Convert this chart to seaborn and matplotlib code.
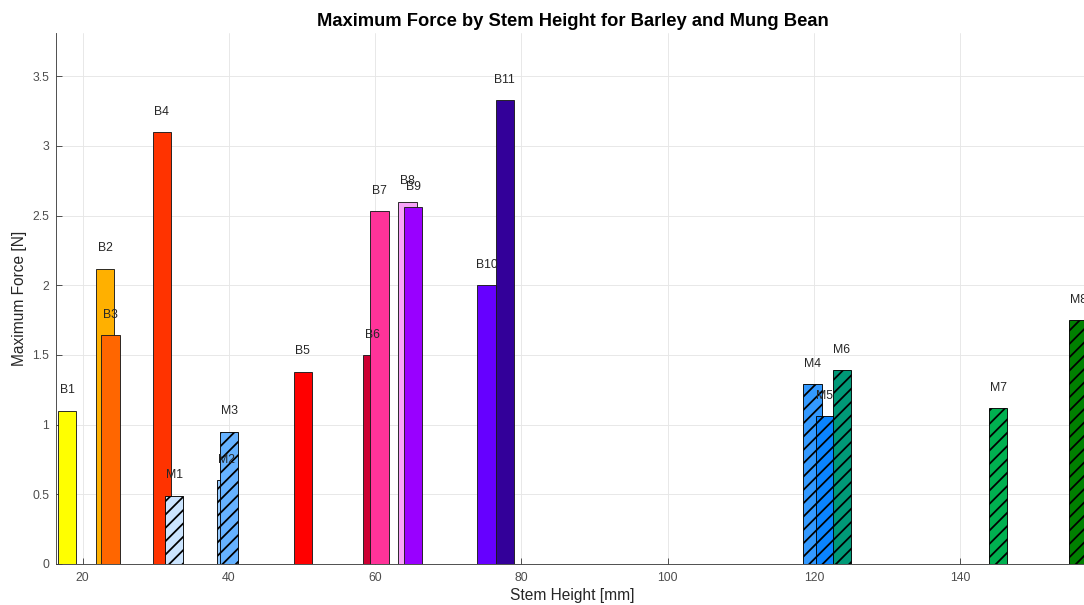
import matplotlib
matplotlib.use("Agg")
import matplotlib.pyplot as plt
import seaborn as sns

# Barley samples
barley_labels = ["B1", "B2", "B3", "B4", "B5", "B6", "B7", "B8", "B9", "B10", "B11"]
barley_height = [17.9, 23.05, 23.8, 30.8, 50.1, 59.6, 60.6, 64.4, 65.2, 75.2, 77.7]
barley_force = [1.10, 2.12, 1.64, 3.10, 1.38, 1.50, 2.53, 2.60, 2.56, 2.00, 3.33]

# Mung bean samples
mung_labels = ["M1", "M2", "M3", "M4", "M5", "M6", "M7", "M8"]
mung_height = [32.5, 39.6, 40.05, 119.8, 121.5, 123.8, 145.2, 156.1]
mung_force = [0.49, 0.60, 0.95, 1.29, 1.06, 1.39, 1.12, 1.75]

barley_colors = ["#FFFF00", "#FFB000", "#FF6600", "#FF3300", "#FF0000", "#CC0033",
                 "#FF3399", "#F7A3F7", "#9900FF", "#6600FF", "#330099"]
mung_colors = ["#CCE5FF", "#99CCFF", "#66B2FF", "#3399FF", "#0A84FF", "#009977",
               "#00B050", "#008000"]

BAR_WIDTH = 2.5
LABEL_OFFSET = 0.145

sns.set_theme(style="whitegrid", font="Liberation Sans")
plt.rcParams.update({
    "font.family": ["Liberation Sans", "DejaVu Sans"],
    "hatch.linewidth": 1.6,
    "hatch.color": "black",
    "grid.color": "#e6e6e6",
    "grid.linewidth": 0.8,
    "xtick.direction": "in",
    "ytick.direction": "in",
})

DPI = 80
fig = plt.figure(figsize=(1084 / DPI, 605 / DPI), dpi=DPI, facecolor="white")
ax = fig.add_axes([56 / 1084, 41 / 605, 1033 / 1084, 531 / 605])
ax.set_facecolor("white")
ax.set_axisbelow(True)

for h, f, c in zip(barley_height, barley_force, barley_colors):
    ax.bar(h, f, width=BAR_WIDTH, color=c, edgecolor="#1a1a1a", linewidth=0.8, zorder=2)

for h, f, c in zip(mung_height, mung_force, mung_colors):
    ax.bar(h, f, width=BAR_WIDTH, color=c, edgecolor="#000000", linewidth=0.8,
           hatch="//", zorder=2)

for lbl, h, f in zip(barley_labels + mung_labels, barley_height + mung_height,
                     barley_force + mung_force):
    ax.text(h, f + LABEL_OFFSET, lbl, ha="center", va="center", fontsize=11,
            color="#262626", zorder=5, clip_on=False)

ax.set_xlim(16.35, 157.6)
ax.set_ylim(0, 3.81)
ax.set_xticks([20, 40, 60, 80, 100, 120, 140])
ax.set_yticks([0, 0.5, 1, 1.5, 2, 2.5, 3, 3.5])
ax.set_yticklabels(["0", "0.5", "1", "1.5", "2", "2.5", "3", "3.5"])
ax.tick_params(axis="both", which="both", direction="in", length=5, width=0.8,
               colors="#404040", labelsize=11, labelcolor="#4d4d4d",
               bottom=True, left=True, top=False, right=False)
ax.tick_params(axis="x", pad=7)
ax.tick_params(axis="y", pad=6)
ax.grid(True, which="major", axis="both")

for side in ["top", "right"]:
    ax.spines[side].set_visible(False)
for side in ["left", "bottom"]:
    ax.spines[side].set_visible(True)
    ax.spines[side].set_color("#404040")
    ax.spines[side].set_linewidth(0.8)

ax.set_xlabel("Stem Height [mm]", fontsize=14, color="#262626", labelpad=4)
ax.set_ylabel("Maximum Force [N]", fontsize=14, color="#262626", labelpad=5)
ax.set_title("Maximum Force by Stem Height for Barley and Mung Bean",
             fontsize=16.5, fontweight="bold", color="black", pad=6)

fig.savefig("out.png", dpi=DPI, facecolor="white")
